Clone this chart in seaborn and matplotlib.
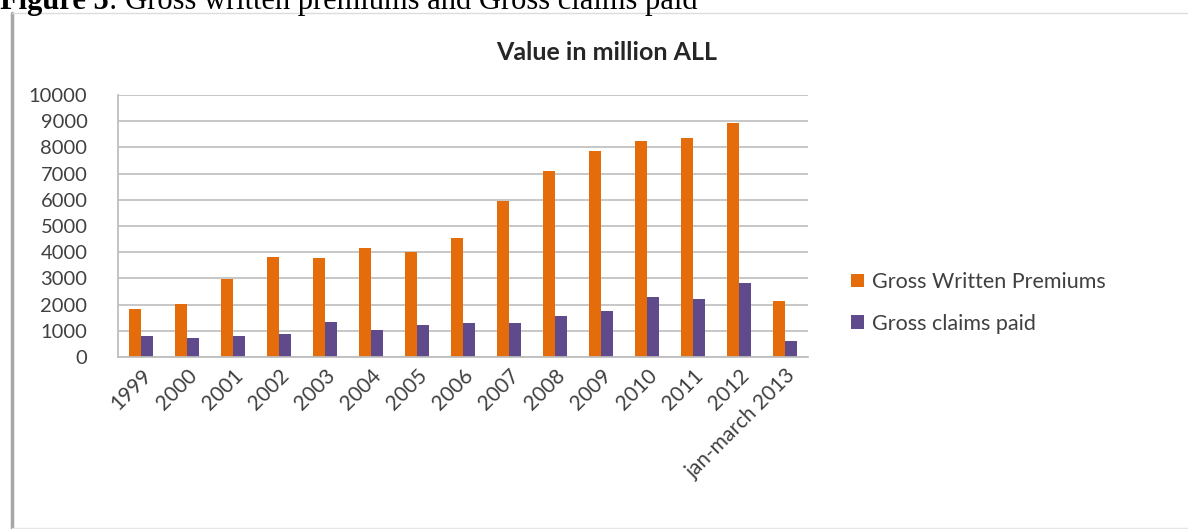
import matplotlib
matplotlib.use("Agg")
import matplotlib.pyplot as plt
import seaborn as sns
import pandas as pd
from matplotlib.lines import Line2D
from matplotlib.patches import Patch

categories = ["1999", "2000", "2001", "2002", "2003", "2004", "2005", "2006",
              "2007", "2008", "2009", "2010", "2011", "2012", "jan-march 2013"]
gross_written_premiums = [1850, 2040, 2990, 3800, 3760, 4170, 4010, 4560,
                          5960, 7110, 7860, 8240, 8340, 8940, 2140]
gross_claims_paid = [800, 730, 790, 870, 1350, 1045, 1210, 1300,
                     1300, 1555, 1760, 2290, 2230, 2830, 600]
series_names = ["Gross Written Premiums", "Gross claims paid"]
colors = ["#E46C0A", "#5F4A8B"]
yticks = list(range(0, 10001, 1000))

df = pd.DataFrame({
    "year": categories * 2,
    "value": gross_written_premiums + gross_claims_paid,
    "series": [series_names[0]] * len(categories) + [series_names[1]] * len(categories),
})

sns.set_theme(style="white")
plt.rcParams["font.family"] = ["Lato", "DejaVu Sans"]

fig = plt.figure(figsize=(11.88, 5.29), dpi=100)
ax = fig.add_axes([118 / 1188, 1 - 357 / 529, (808 - 118) / 1188, (357 - 95) / 529])

sns.barplot(data=df, x="year", y="value", hue="series", palette=colors,
            width=0.52, gap=0, dodge=True, ax=ax, legend=False,
            saturation=1, linewidth=0)

ax.set_ylim(0, 10000)
ax.set_yticks(yticks)
ax.set_yticklabels([str(t) for t in yticks], fontsize=14.5, color="#404040")
ax.set_xticks(range(len(categories)))
ax.set_xticklabels(categories, rotation=45, ha="right", rotation_mode="anchor",
                   fontsize=15, color="#404040")
ax.tick_params(axis="x", length=0, pad=6)
ax.tick_params(axis="y", length=0, pad=22)
ax.set_xlabel("")
ax.set_ylabel("")
ax.set_xlim(-0.5, len(categories) - 0.5)
ax.yaxis.grid(True, color="#BDBDBD", linewidth=1.2)
ax.set_axisbelow(True)
for s in ["top", "right"]:
    ax.spines[s].set_visible(False)
ax.spines["left"].set_color("#BDBDBD")
ax.spines["bottom"].set_color("#BDBDBD")

fig.text(607 / 1188, 1 - 52 / 529, "Value in million ALL", ha="center", va="center",
         fontsize=18, fontweight="bold", color="#262626")

handles = [Patch(facecolor=c, edgecolor="none") for c in colors]
fig.legend(handles, series_names, loc="center left",
           bbox_to_anchor=(832 / 1188, 1 - 303 / 529), frameon=False,
           fontsize=15.5, handlelength=0.6, handleheight=0.6,
           handletextpad=0.35, labelspacing=1.0, labelcolor="#404040")

# caption (partially cut off at top)
t1 = fig.text(0.0, 1 - 9 / 529, "Figure 5", ha="left", va="baseline",
              fontsize=22, fontweight="bold", family="Liberation Serif", color="black")
fig.canvas.draw()
bb = t1.get_window_extent(renderer=fig.canvas.get_renderer())
x_next = bb.x1 / fig.bbox.width
fig.text(x_next, 1 - 9 / 529, ": Gross written premiums and Gross claims paid",
         ha="left", va="baseline", fontsize=22, family="Liberation Serif", color="black")

# chart frame
fig.add_artist(Line2D([11.5 / 1188, 11.5 / 1188], [0, 1 - 13 / 529],
                      transform=fig.transFigure, color="#A6A6A6", linewidth=2.5))
fig.add_artist(Line2D([11.5 / 1188, 1], [1 - 13 / 529, 1 - 13 / 529],
                      transform=fig.transFigure, color="#DCDCDC", linewidth=1))
fig.add_artist(Line2D([11.5 / 1188, 1], [1.5 / 529, 1.5 / 529],
                      transform=fig.transFigure, color="#E6E6E6", linewidth=1))

fig.savefig("out.png", dpi=100)
